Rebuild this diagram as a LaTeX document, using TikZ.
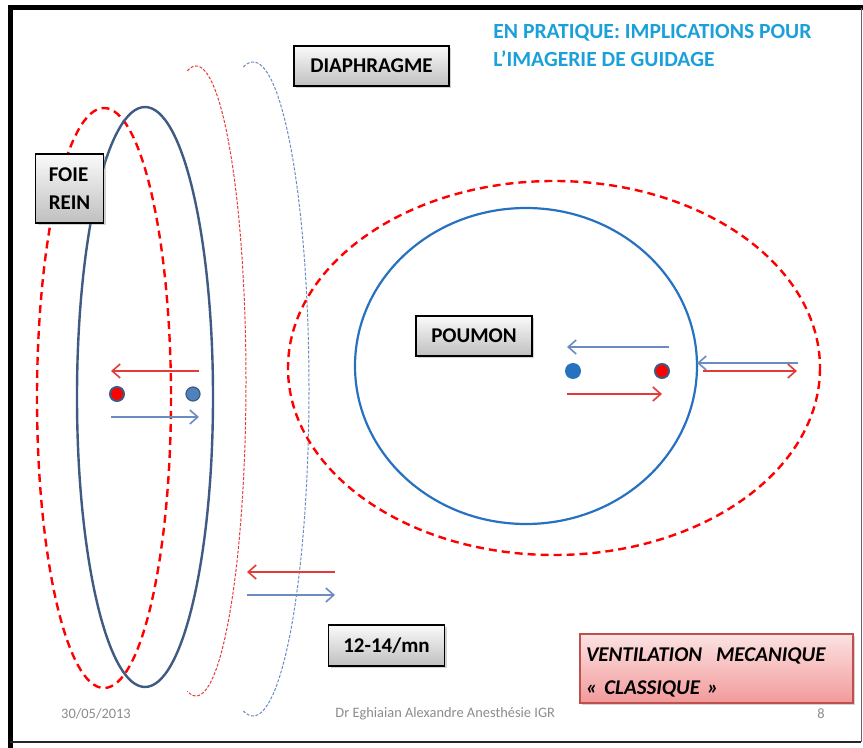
\documentclass[tikz,border=0pt]{standalone}
\usepackage{fontspec}
\setmainfont{Carlito}
\usepackage{tikz}
\usetikzlibrary{arrows.meta,shadows}
\definecolor{slateline}{HTML}{3F5A83}
\definecolor{lungblue}{HTML}{2672C0}
\definecolor{titleblue}{HTML}{1BA0DA}
\definecolor{softblue}{HTML}{6A8CC0}
\definecolor{softred}{HTML}{E43A3A}
\definecolor{dotblue}{HTML}{4F81BD}
\definecolor{footgray}{HTML}{8C8C8C}
\definecolor{boxred}{HTML}{C0504D}
\definecolor{pinktop}{HTML}{FCE2E2}
\definecolor{pinkbottom}{HTML}{F29A9A}
\tikzset{
    organ dash/.style={red, line width=1.2pt, dash pattern=on 4pt off 2.5pt},
    organ line/.style={slateline, line width=1.2pt},
    lung line/.style={lungblue, line width=1.1pt},
    diaph red/.style={softred, line width=0.5pt, dash pattern=on 1.5pt off 0.8pt},
    diaph blue/.style={softblue, line width=0.5pt, dash pattern=on 1.5pt off 0.8pt},
    move red/.style={softred, line width=0.8pt, -{Straight Barb[length=4pt,width=7pt]}},
    move blue/.style={softblue, line width=0.8pt, -{Straight Barb[length=4pt,width=7pt]}},
    dot/.style={circle, inner sep=0pt, minimum size=7pt},
    red dot/.style={dot, fill=red, draw=slateline, line width=1pt},
    blue dot/.style={dot, fill=dotblue, draw=slateline, line width=0.6pt},
    lung dot/.style={dot, fill=lungblue, minimum size=8pt},
    label box/.style={draw=black, line width=0.8pt, top color=gray!4, bottom color=gray!50,
        drop shadow={shadow xshift=1.2pt, shadow yshift=-1.2pt, opacity=0.35},
        font=\fontsize{10.5}{14}\selectfont\bfseries, align=left, inner sep=0pt},
    mode box/.style={draw=boxred, line width=0.6pt, top color=pinktop, bottom color=pinkbottom,
        drop shadow={shadow xshift=1.2pt, shadow yshift=-1.2pt, opacity=0.35},
        font=\fontsize{10.5}{16.5}\selectfont\bfseries\itshape, align=left, inner sep=0pt},
    foot/.style={footgray, font=\fontsize{7.2}{8}\selectfont, inner sep=0pt}
}

\begin{document}
\begin{tikzpicture}[x=0.5pt, y=-0.5pt]
    \useasboundingbox (0,0) rectangle (863,748);
    \fill[white] (0,0) rectangle (863,748);
    % slide frame
    \draw[black, line width=2.5pt] (10,748) -- (10,8) -- (863,8);
    \draw[black!85, line width=1pt] (10,742) -- (861,742);
    \draw[black!60, line width=0.5pt] (861,8) -- (861,742);

    % title
    \node[titleblue, anchor=west, align=left, inner sep=0pt,
          font=\fontsize{10.8}{14}\selectfont\bfseries] (title) at (493,46)
          {EN PRATIQUE: IMPLICATIONS POUR\\L’IMAGERIE DE GUIDAGE};

    % liver / kidney
    \draw[organ dash] (104,398) ellipse [x radius=67, y radius=290];
    \draw[organ line] (145,397) ellipse [x radius=68, y radius=290];

    % diaphragm positions
    \draw[diaph red] (196,381) ++(-100:50 and 315) arc[start angle=-100, end angle=100, x radius=50, y radius=315];
    \draw[diaph blue] (253,389) ++(-100:56 and 327) arc[start angle=-100, end angle=100, x radius=56, y radius=327];

    % lung
    \draw[organ dash] (554,368) ellipse [x radius=266, y radius=187];
    \draw[lung line] (526,366) ellipse [x radius=171, y radius=158];

    % dots
    \node[red dot] (liverIn) at (117,394) {};
    \node[blue dot] (liverEx) at (193,394) {};
    \node[lung dot] (lungEx) at (573,371) {};
    \node[red dot] (lungIn) at (662,371) {};

    % movement arrows
    \coordinate (la1) at (199,371);
    \coordinate (la2) at (111,371);
    \coordinate (la3) at (111,417);
    \coordinate (la4) at (199,417);
    \draw[move red] (la1) -- (la2);
    \draw[move blue] (la3) -- (la4);

    \coordinate (pa1) at (669,347);
    \coordinate (pa2) at (567,347);
    \coordinate (pa3) at (567,394);
    \coordinate (pa4) at (662,394);
    \draw[move blue] (pa1) -- (pa2);
    \draw[move red] (pa3) -- (pa4);

    \coordinate (ra1) at (798,363);
    \coordinate (ra2) at (697,363);
    \coordinate (ra3) at (703,371);
    \coordinate (ra4) at (797,371);
    \draw[move blue] (ra1) -- (ra2);
    \draw[move red] (ra3) -- (ra4);

    \coordinate (da1) at (335,572);
    \coordinate (da2) at (247,572);
    \coordinate (da3) at (247,595);
    \coordinate (da4) at (335,595);
    \draw[move red] (da1) -- (da2);
    \draw[move blue] (da3) -- (da4);

    % labels
    \node[label box, minimum width=77.5pt, minimum height=20pt] (diaph) at (371.5,66) {DIAPHRAGME};
    \node[label box, minimum width=34pt, minimum height=34.5pt] (foie) at (69.5,188.5) {FOIE\\REIN};
    \node[label box, minimum width=58pt, minimum height=20pt] (poumon) at (474,336) {POUMON};
    \node[label box, minimum width=58pt, minimum height=20.5pt] (freq) at (386.5,645.5) {12-14/mn};
    \node[mode box, minimum width=136.5pt, minimum height=34.5pt, text width=130.5pt] (mode) at (716.5,668.5)
        {\rule{0pt}{11pt}VENTILATION\ \ MECANIQUE\\«~CLASSIQUE~»};

    % footer
    \node[foot] (date) at (96,714) {30/05/2013};
    \node[foot, anchor=west] (author) at (335,714) {Dr Eghiaian Alexandre Anesthésie IGR};
    \node[foot] (page) at (821,714) {8};
\end{tikzpicture}
\end{document}
